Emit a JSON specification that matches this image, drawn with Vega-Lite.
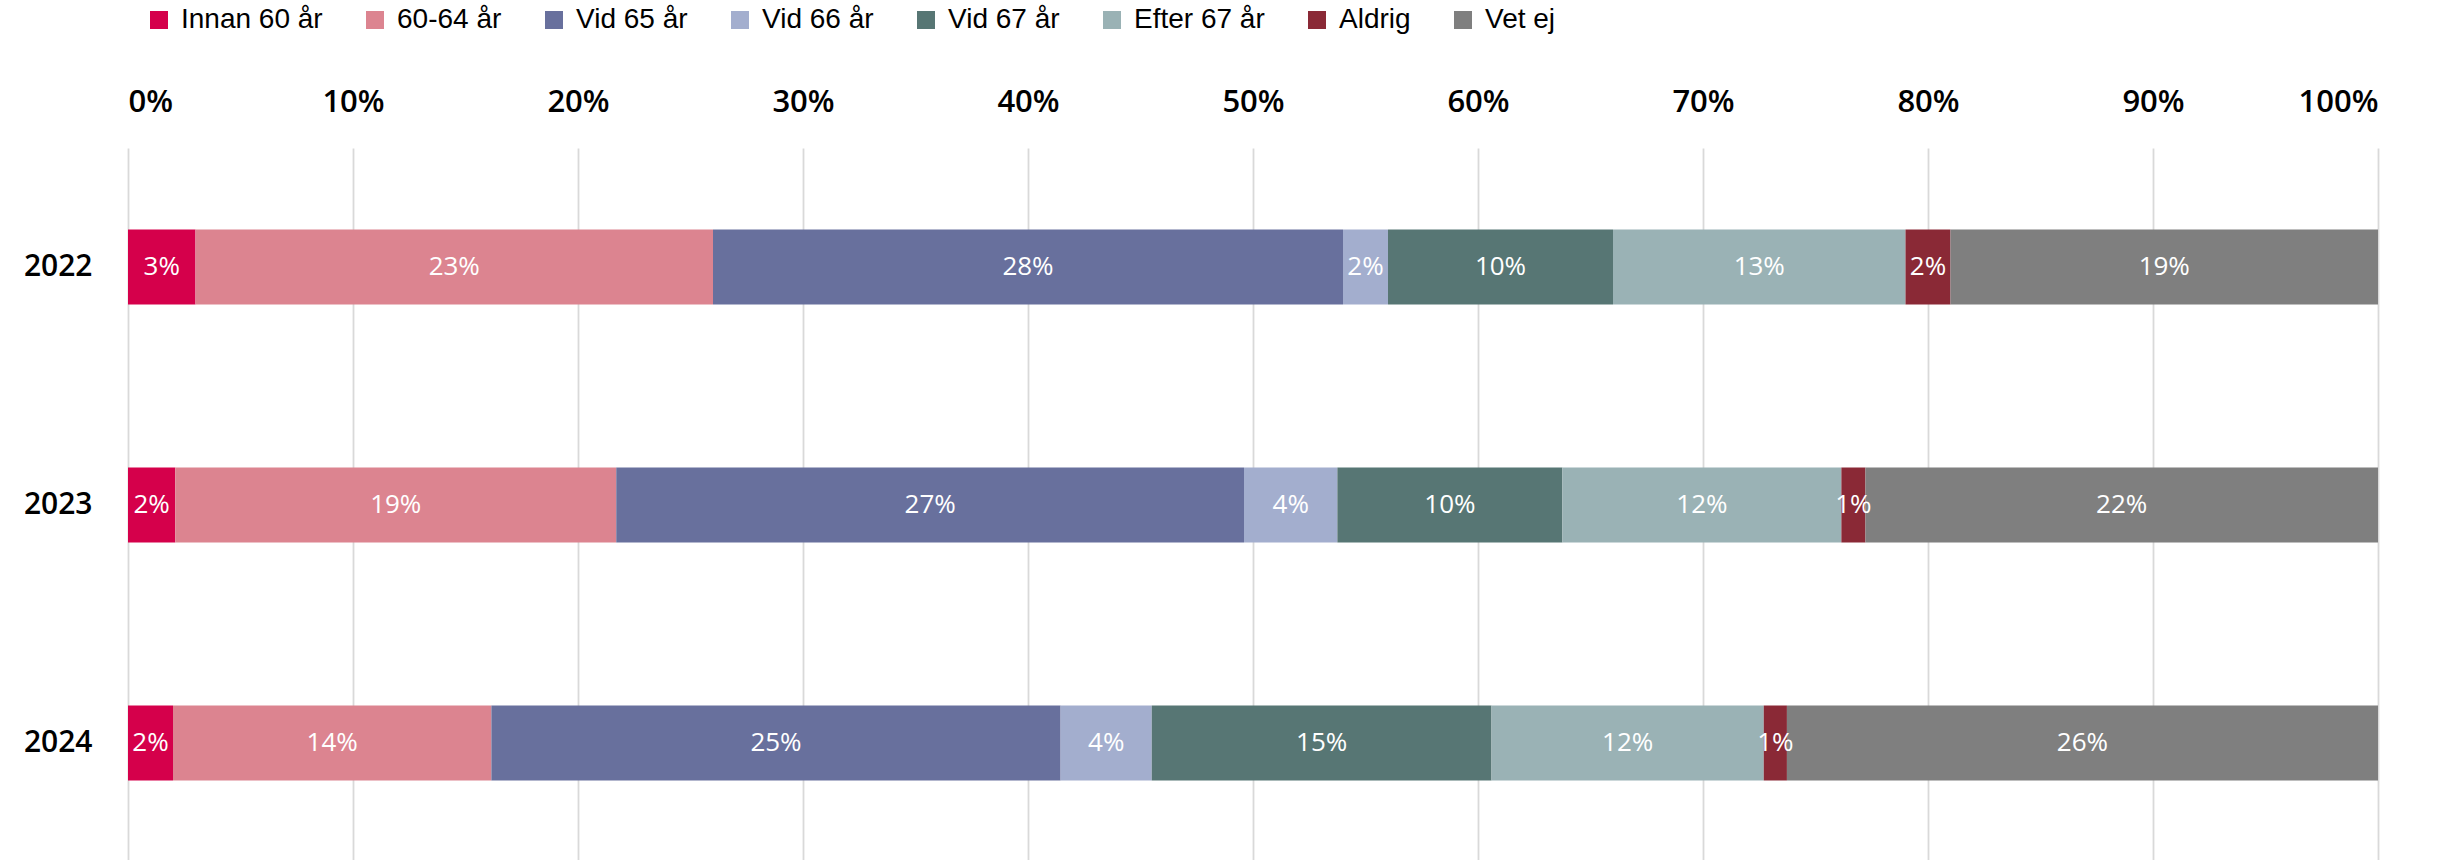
{
  "$schema": "https://vega.github.io/schema/vega-lite/v6.json",
  "width": 2250,
  "height": 714,
  "autosize": {"type": "none"},
  "padding": {"left": 128, "top": 148, "right": 72, "bottom": 0},
  "background": "white",
  "config": {
    "view": {"stroke": null},
    "font": "Open Sans"
  },
  "data": {
    "values": [
      {"year": "2022", "category": "Innan 60 år", "order": 1, "value": 3.0, "label": "3%"},
      {"year": "2022", "category": "60-64 år", "order": 2, "value": 23.0, "label": "23%"},
      {"year": "2022", "category": "Vid 65 år", "order": 3, "value": 28.0, "label": "28%"},
      {"year": "2022", "category": "Vid 66 år", "order": 4, "value": 2.0, "label": "2%"},
      {"year": "2022", "category": "Vid 67 år", "order": 5, "value": 10.0, "label": "10%"},
      {"year": "2022", "category": "Efter 67 år", "order": 6, "value": 13.0, "label": "13%"},
      {"year": "2022", "category": "Aldrig", "order": 7, "value": 2.0, "label": "2%"},
      {"year": "2022", "category": "Vet ej", "order": 8, "value": 19.0, "label": "19%"},
      {"year": "2023", "category": "Innan 60 år", "order": 1, "value": 2.1, "label": "2%"},
      {"year": "2023", "category": "60-64 år", "order": 2, "value": 19.6, "label": "19%"},
      {"year": "2023", "category": "Vid 65 år", "order": 3, "value": 27.9, "label": "27%"},
      {"year": "2023", "category": "Vid 66 år", "order": 4, "value": 4.15, "label": "4%"},
      {"year": "2023", "category": "Vid 67 år", "order": 5, "value": 10.0, "label": "10%"},
      {"year": "2023", "category": "Efter 67 år", "order": 6, "value": 12.4, "label": "12%"},
      {"year": "2023", "category": "Aldrig", "order": 7, "value": 1.07, "label": "1%"},
      {"year": "2023", "category": "Vet ej", "order": 8, "value": 22.78, "label": "22%"},
      {"year": "2024", "category": "Innan 60 år", "order": 1, "value": 2.0, "label": "2%"},
      {"year": "2024", "category": "60-64 år", "order": 2, "value": 14.15, "label": "14%"},
      {"year": "2024", "category": "Vid 65 år", "order": 3, "value": 25.3, "label": "25%"},
      {"year": "2024", "category": "Vid 66 år", "order": 4, "value": 4.05, "label": "4%"},
      {"year": "2024", "category": "Vid 67 år", "order": 5, "value": 15.1, "label": "15%"},
      {"year": "2024", "category": "Efter 67 år", "order": 6, "value": 12.1, "label": "12%"},
      {"year": "2024", "category": "Aldrig", "order": 7, "value": 1.03, "label": "1%"},
      {"year": "2024", "category": "Vet ej", "order": 8, "value": 26.27, "label": "26%"}
    ]
  },
  "encoding": {
    "y": {
      "field": "year",
      "type": "nominal",
      "scale": {"paddingInner": 0.685, "paddingOuter": 0.3425},
      "axis": {
        "title": null,
        "domain": false,
        "ticks": false,
        "grid": false,
        "labelFont": "Open Sans",
        "labelFontSize": 30,
        "labelFontWeight": 600,
        "labelColor": "#000000",
        "labelPadding": 36
      }
    }
  },
  "layer": [
    {
      "mark": {"type": "bar"},
      "encoding": {
        "x": {
          "field": "value",
          "type": "quantitative",
          "stack": "zero",
          "scale": {"domain": [0, 100], "nice": false},
          "axis": {
            "orient": "top",
            "title": null,
            "domain": false,
            "ticks": false,
            "values": [0, 10, 20, 30, 40, 50, 60, 70, 80, 90, 100],
            "labelExpr": "datum.value + '%'",
            "labelFont": "Open Sans",
            "labelFontSize": 31,
            "labelFontWeight": 600,
            "labelColor": "#000000",
            "labelPadding": 30,
            "grid": true,
            "gridColor": "#d9d9d9",
            "gridWidth": 1.8
          }
        },
        "color": {
          "field": "category",
          "type": "nominal",
          "scale": {
            "domain": ["Innan 60 år", "60-64 år", "Vid 65 år", "Vid 66 år", "Vid 67 år", "Efter 67 år", "Aldrig", "Vet ej"],
            "range": ["#D5004B", "#DC8490", "#68709D", "#A3AECE", "#577674", "#9AB2B5", "#8A2936", "#7F7F7F"]
          },
          "legend": {
            "title": null,
            "orient": "none",
            "direction": "horizontal",
            "columns": 8,
            "legendX": 17,
            "legendY": -142,
            "padding": 0,
            "symbolType": "square",
            "symbolSize": 324,
            "symbolStrokeWidth": 0,
            "symbolOpacity": 1,
            "labelFont": "Liberation Sans",
            "labelFontSize": 28,
            "labelColor": "#000000",
            "labelOffset": 8,
            "columnPadding": 38
          }
        },
        "order": {"field": "order", "type": "quantitative"}
      }
    },
    {
      "mark": {"type": "text", "color": "white", "font": "Open Sans", "fontSize": 26, "fontWeight": 500, "align": "center", "baseline": "middle"},
      "encoding": {
        "x": {"field": "value", "type": "quantitative", "stack": "zero", "bandPosition": 0.5},
        "detail": {"field": "category", "type": "nominal"},
        "order": {"field": "order", "type": "quantitative"},
        "text": {"field": "label", "type": "nominal"}
      }
    }
  ]
}
